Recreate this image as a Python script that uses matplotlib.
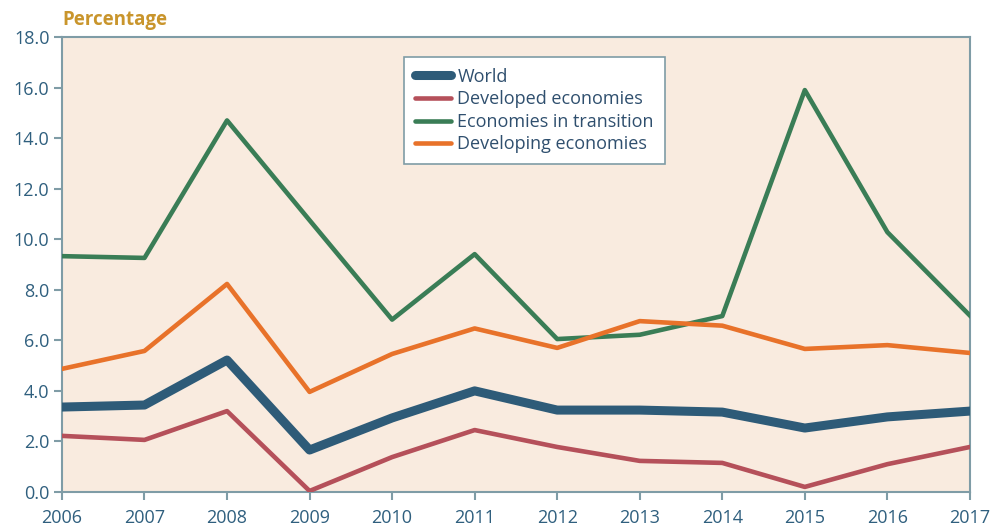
import matplotlib.pyplot as plt

years = [2006, 2007, 2008, 2009, 2010, 2011, 2012, 2013, 2014, 2015, 2016, 2017]
world = [3.36, 3.44, 5.22, 1.66, 2.93, 4.00, 3.24, 3.24, 3.16, 2.53, 2.97, 3.20]
developed = [2.22, 2.06, 3.20, 0.04, 1.38, 2.45, 1.78, 1.23, 1.15, 0.20, 1.10, 1.78]
transition = [9.33, 9.26, 14.70, 10.75, 6.82, 9.41, 6.05, 6.22, 6.96, 15.90, 10.28, 6.98]
developing = [4.87, 5.58, 8.23, 3.96, 5.46, 6.47, 5.70, 6.76, 6.58, 5.66, 5.81, 5.50]

plt.rcParams['font.family'] = ['Open Sans', 'DejaVu Sans']
spine_col = '#7f9ca6'
text_col = '#2f5f7e'

fig = plt.figure(figsize=(9.96, 5.25), dpi=100)
ax = fig.add_axes([0.0622, 0.0629, 0.9116, 0.8666])
ax.set_facecolor('#f9ebdf')

# thin lines first, World on top
ax.plot(years, developed, color='#b5505a', lw=3.3, label='Developed economies', zorder=3)
ax.plot(years, transition, color='#3a7d56', lw=3.3, label='Economies in transition', zorder=3)
ax.plot(years, developing, color='#e8722a', lw=3.3, label='Developing economies', zorder=3)
ax.plot(years, world, color='#2e5b78', lw=6.5, label='World', zorder=4)

ax.set_xlim(2006, 2017)
ax.set_ylim(0, 18)
ax.set_xticks(years)
ax.set_yticks([i * 2 for i in range(10)])
ax.set_yticklabels(['%.1f' % (i * 2) for i in range(10)])

for s in ax.spines.values():
    s.set_color(spine_col)
    s.set_linewidth(1.5)
ax.tick_params(axis='both', colors=spine_col, labelcolor=text_col,
               labelsize=13, length=6, width=1.5, direction='out')
ax.tick_params(axis='y', pad=3)
ax.tick_params(axis='x', pad=6)

ax.text(0.0, 1.016, 'Percentage', transform=ax.transAxes, color='#c9952c',
        fontsize=13.5, fontweight='bold', ha='left', va='bottom')

h, l = ax.get_legend_handles_labels()
order = [3, 0, 1, 2]
leg = ax.legend([h[i] for i in order], [l[i] for i in order],
                loc='upper left', bbox_to_anchor=(0.367, 0.976),
                fontsize=13, frameon=True, fancybox=False,
                handlelength=2.0, handletextpad=0.35, labelspacing=0.25,
                borderpad=0.6)
leg.get_frame().set_edgecolor(spine_col)
leg.get_frame().set_linewidth(1.2)
leg.get_frame().set_facecolor('white')
leg.get_frame().set_alpha(1)
for line in leg.get_lines():
    line.set_solid_capstyle('round')
for t in leg.get_texts():
    t.set_color('#2f4f6e')

fig.savefig('out.png', dpi=100)
